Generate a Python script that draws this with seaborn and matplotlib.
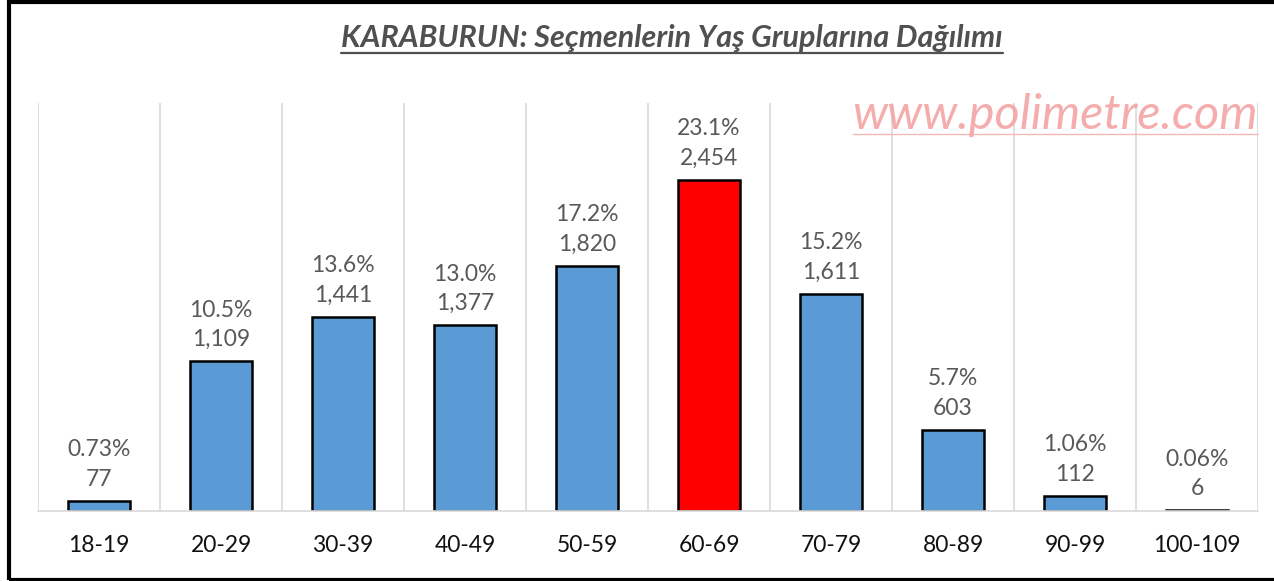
import matplotlib
matplotlib.use('Agg')
import matplotlib.pyplot as plt
import seaborn as sns
import pandas as pd
from matplotlib.lines import Line2D
from matplotlib.patches import Rectangle

# data
age_groups = ['18-19', '20-29', '30-39', '40-49', '50-59', '60-69',
              '70-79', '80-89', '90-99', '100-109']
voters = [77, 1109, 1441, 1377, 1820, 2454, 1611, 603, 112, 6]
shares = ['0.73%', '10.5%', '13.6%', '13.0%', '17.2%', '23.1%',
          '15.2%', '5.7%', '1.06%', '0.06%']

sns.set_theme(style='white')
plt.rcParams['font.family'] = ['Lato', 'DejaVu Sans']

W, H = 1274, 581
fig = plt.figure(figsize=(W / 100, H / 100), dpi=100)
ax = fig.add_axes([38 / W, 1 - 511 / H, (1258 - 38) / W, (511 - 103) / H])

df = pd.DataFrame({'grp': age_groups, 'n': voters})
colors = ['#FF0000' if v == max(voters) else '#5B9BD5' for v in voters]
sns.barplot(data=df, x='grp', y='n', hue='grp', palette=colors, legend=False,
            width=0.51, edgecolor='black', linewidth=1.8, saturation=1, ax=ax)

ax.set_xlim(-0.5, len(age_groups) - 0.5)
ax.set_ylim(0, 3025)
ax.set_yticks([])
ax.set_xlabel('')
ax.set_ylabel('')
ax.set_xticks([i - 0.5 for i in range(len(age_groups) + 1)], minor=True)
ax.grid(True, which='minor', axis='x', color='#D9D9D9', linewidth=1.2)
ax.set_axisbelow(True)
ax.tick_params(axis='x', which='both', length=0, labelsize=16.5,
               labelcolor='#111111', pad=17)
for s in ['top', 'left', 'right']:
    ax.spines[s].set_visible(False)
ax.spines['bottom'].set_color('#D9D9D9')
ax.spines['bottom'].set_linewidth(1.2)

for i, (v, s) in enumerate(zip(voters, shares)):
    ax.annotate(f'{s}\n{v:,}', (i, v), xytext=(0, 8), textcoords='offset points',
                ha='center', va='bottom', fontsize=16.5, color='#595959',
                linespacing=1.5)

# title with underline
title = fig.text(672 / W, 1 - 38 / H, 'KARABURUN: Seçmenlerin Yaş Gruplarına Dağılımı',
                 ha='center', va='center', fontsize=22, style='italic',
                 weight='bold', color='#505050')
# watermark
wm = fig.text(1258 / W, 1 - 115 / H, 'www.polimetre.com', ha='right', va='center',
              fontsize=35, style='italic', color='#F4A3A3', alpha=0.9)

fig.canvas.draw()
r = fig.canvas.get_renderer()
for t, y, c, lw in [(title, 53, '#505050', 1.6), (wm, 134, '#F4B8B8', 1.0)]:
    bb = t.get_window_extent(r)
    fig.add_artist(Line2D([bb.x0 / W, bb.x1 / W], [1 - y / H, 1 - y / H],
                          transform=fig.transFigure, color=c, linewidth=lw))

# black frame around the chart
fig.add_artist(Rectangle((8.5 / W, 1.5 / H), 1.2, 1 - 3.5 / H, transform=fig.transFigure,
                         fill=False, edgecolor='black', linewidth=3, clip_on=False))

fig.savefig('out.png', dpi=100)
